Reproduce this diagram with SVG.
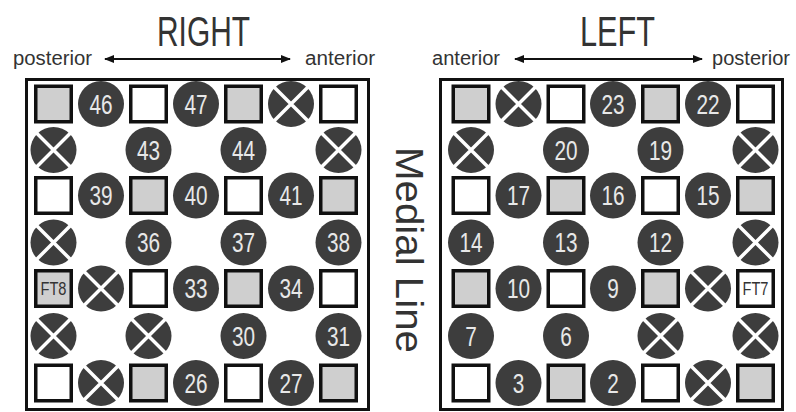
<svg xmlns="http://www.w3.org/2000/svg" xmlns:xlink="http://www.w3.org/1999/xlink" width="796" height="412" viewBox="0 0 796 412">
<style>
.fr{fill:none;stroke:#111;stroke-width:3}
.sq{stroke:#111;stroke-width:3.5}
.g{fill:#cfcfcf}
.w{fill:#fff}
.c{fill:#3d3d3d}
.n{font-family:"Liberation Sans",Arial,sans-serif;font-size:27px;fill:#e8e8e8;text-anchor:middle}
.ft{font-family:"Liberation Sans",Arial,sans-serif;font-size:18px;fill:#333;text-anchor:middle}
.h{font-family:"Liberation Sans",Arial,sans-serif;fill:#333}
.ar{stroke:#111;stroke-width:2.2;fill:none;marker-start:url(#ah);marker-end:url(#ah)}
</style>
<defs>
<marker id="ah" viewBox="0 0 10 8" refX="9" refY="4" markerWidth="10" markerHeight="8" markerUnits="userSpaceOnUse" orient="auto-start-reverse">
<path d="M0,0 L10,4 L0,8 Z" fill="#111"/>
</marker>
<g id="xc"><circle class="c" r="23"/><path d="M-17,-17 L17,17 M17,-17 L-17,17" stroke="#fff" stroke-width="3.5"/></g>
<rect id="sqs" x="-17.75" y="-17.75" width="35.5" height="35.5"/>
</defs>
<rect width="796" height="412" fill="#fff"/>

<g id="headers">
<text class="h" x="157" y="46" font-size="42" textLength="93" lengthAdjust="spacingAndGlyphs">RIGHT</text>
<text class="h" x="580" y="46" font-size="42" textLength="75" lengthAdjust="spacingAndGlyphs">LEFT</text>
<text class="h" x="13" y="65" font-size="20" textLength="79" lengthAdjust="spacingAndGlyphs">posterior</text>
<text class="h" x="305" y="65" font-size="20" textLength="70" lengthAdjust="spacingAndGlyphs">anterior</text>
<text class="h" x="432" y="65" font-size="20" textLength="68" lengthAdjust="spacingAndGlyphs">anterior</text>
<text class="h" x="712" y="65" font-size="20" textLength="78" lengthAdjust="spacingAndGlyphs">posterior</text>
<text class="h" transform="translate(396,147) rotate(90)" x="0" y="0" font-size="38" fill="#222" textLength="206" lengthAdjust="spacingAndGlyphs">Medial Line</text>
</g>

<g id="connectors">
<line class="ar" x1="105" y1="59" x2="290" y2="59"/>
<line class="ar" x1="515" y1="59" x2="702" y2="59"/>
</g>

<g id="right-panel">
<rect class="fr" x="26.5" y="79.5" width="342" height="330"/>
<g id="R-r1c1" transform="translate(53.5,104)"><use href="#sqs" class="sq g"/></g>
<g id="e46" transform="translate(101,104)"><circle class="c" r="23"/><text class="n" transform="scale(.77 1)" y="9.5">46</text></g>
<g id="R-r1c3" transform="translate(148.5,104)"><use href="#sqs" class="sq w"/></g>
<g id="e47" transform="translate(196,104)"><circle class="c" r="23"/><text class="n" transform="scale(.77 1)" y="9.5">47</text></g>
<g id="R-r1c5" transform="translate(243.5,104)"><use href="#sqs" class="sq g"/></g>
<g id="R-x1c6" transform="translate(291,104)"><use href="#xc"/></g>
<g id="R-r1c7" transform="translate(338.5,104)"><use href="#sqs" class="sq w"/></g>
<g id="R-x2c1" transform="translate(53.5,150)"><use href="#xc"/></g>
<g id="e43" transform="translate(148.5,150)"><circle class="c" r="23"/><text class="n" transform="scale(.77 1)" y="9.5">43</text></g>
<g id="e44" transform="translate(243.5,150)"><circle class="c" r="23"/><text class="n" transform="scale(.77 1)" y="9.5">44</text></g>
<g id="R-x2c7" transform="translate(338.5,150)"><use href="#xc"/></g>
<g id="R-r3c1" transform="translate(53.5,195.5)"><use href="#sqs" class="sq w"/></g>
<g id="e39" transform="translate(101,195.5)"><circle class="c" r="23"/><text class="n" transform="scale(.77 1)" y="9.5">39</text></g>
<g id="R-r3c3" transform="translate(148.5,195.5)"><use href="#sqs" class="sq g"/></g>
<g id="e40" transform="translate(196,195.5)"><circle class="c" r="23"/><text class="n" transform="scale(.77 1)" y="9.5">40</text></g>
<g id="R-r3c5" transform="translate(243.5,195.5)"><use href="#sqs" class="sq w"/></g>
<g id="e41" transform="translate(291,195.5)"><circle class="c" r="23"/><text class="n" transform="scale(.77 1)" y="9.5">41</text></g>
<g id="R-r3c7" transform="translate(338.5,195.5)"><use href="#sqs" class="sq g"/></g>
<g id="R-x4c1" transform="translate(53.5,242.5)"><use href="#xc"/></g>
<g id="e36" transform="translate(148.5,242.5)"><circle class="c" r="23"/><text class="n" transform="scale(.77 1)" y="9.5">36</text></g>
<g id="e37" transform="translate(243.5,242.5)"><circle class="c" r="23"/><text class="n" transform="scale(.77 1)" y="9.5">37</text></g>
<g id="e38" transform="translate(338.5,242.5)"><circle class="c" r="23"/><text class="n" transform="scale(.77 1)" y="9.5">38</text></g>
<g id="FT8" transform="translate(53.5,288.5)"><use href="#sqs" class="sq g"/><text class="ft" x="0" y="6.5" textLength="26" lengthAdjust="spacingAndGlyphs" transform="translate(-13,0)" style="text-anchor:start">FT8</text></g>
<g id="R-x5c2" transform="translate(101,288.5)"><use href="#xc"/></g>
<g id="R-r5c3" transform="translate(148.5,288.5)"><use href="#sqs" class="sq w"/></g>
<g id="e33" transform="translate(196,288.5)"><circle class="c" r="23"/><text class="n" transform="scale(.77 1)" y="9.5">33</text></g>
<g id="R-r5c5" transform="translate(243.5,288.5)"><use href="#sqs" class="sq g"/></g>
<g id="e34" transform="translate(291,288.5)"><circle class="c" r="23"/><text class="n" transform="scale(.77 1)" y="9.5">34</text></g>
<g id="R-r5c7" transform="translate(338.5,288.5)"><use href="#sqs" class="sq w"/></g>
<g id="R-x6c1" transform="translate(53.5,336)"><use href="#xc"/></g>
<g id="R-x6c3" transform="translate(148.5,336)"><use href="#xc"/></g>
<g id="e30" transform="translate(243.5,336)"><circle class="c" r="23"/><text class="n" transform="scale(.77 1)" y="9.5">30</text></g>
<g id="e31" transform="translate(338.5,336)"><circle class="c" r="23"/><text class="n" transform="scale(.77 1)" y="9.5">31</text></g>
<g id="R-r7c1" transform="translate(53.5,383)"><use href="#sqs" class="sq w"/></g>
<g id="R-x7c2" transform="translate(101,383)"><use href="#xc"/></g>
<g id="R-r7c3" transform="translate(148.5,383)"><use href="#sqs" class="sq g"/></g>
<g id="e26" transform="translate(196,383)"><circle class="c" r="23"/><text class="n" transform="scale(.77 1)" y="9.5">26</text></g>
<g id="R-r7c5" transform="translate(243.5,383)"><use href="#sqs" class="sq w"/></g>
<g id="e27" transform="translate(291,383)"><circle class="c" r="23"/><text class="n" transform="scale(.77 1)" y="9.5">27</text></g>
<g id="R-r7c7" transform="translate(338.5,383)"><use href="#sqs" class="sq g"/></g>
</g>

<g id="left-panel">
<rect class="fr" x="440.5" y="79.5" width="342" height="330"/>
<g id="L-r1c1" transform="translate(471,104)"><use href="#sqs" class="sq g"/></g>
<g id="L-x1c2" transform="translate(518.5,104)"><use href="#xc"/></g>
<g id="L-r1c3" transform="translate(566,104)"><use href="#sqs" class="sq w"/></g>
<g id="e23" transform="translate(613,104)"><circle class="c" r="23"/><text class="n" transform="scale(.77 1)" y="9.5">23</text></g>
<g id="L-r1c5" transform="translate(660.5,104)"><use href="#sqs" class="sq g"/></g>
<g id="e22" transform="translate(708,104)"><circle class="c" r="23"/><text class="n" transform="scale(.77 1)" y="9.5">22</text></g>
<g id="L-r1c7" transform="translate(755.5,104)"><use href="#sqs" class="sq w"/></g>
<g id="L-x2c1" transform="translate(471,150)"><use href="#xc"/></g>
<g id="e20" transform="translate(566,150)"><circle class="c" r="23"/><text class="n" transform="scale(.77 1)" y="9.5">20</text></g>
<g id="e19" transform="translate(660.5,150)"><circle class="c" r="23"/><text class="n" transform="scale(.77 1)" y="9.5">19</text></g>
<g id="L-x2c7" transform="translate(755.5,150)"><use href="#xc"/></g>
<g id="L-r3c1" transform="translate(471,195.5)"><use href="#sqs" class="sq w"/></g>
<g id="e17" transform="translate(518.5,195.5)"><circle class="c" r="23"/><text class="n" transform="scale(.77 1)" y="9.5">17</text></g>
<g id="L-r3c3" transform="translate(566,195.5)"><use href="#sqs" class="sq g"/></g>
<g id="e16" transform="translate(613,195.5)"><circle class="c" r="23"/><text class="n" transform="scale(.77 1)" y="9.5">16</text></g>
<g id="L-r3c5" transform="translate(660.5,195.5)"><use href="#sqs" class="sq w"/></g>
<g id="e15" transform="translate(708,195.5)"><circle class="c" r="23"/><text class="n" transform="scale(.77 1)" y="9.5">15</text></g>
<g id="L-r3c7" transform="translate(755.5,195.5)"><use href="#sqs" class="sq g"/></g>
<g id="e14" transform="translate(471,242.5)"><circle class="c" r="23"/><text class="n" transform="scale(.77 1)" y="9.5">14</text></g>
<g id="e13" transform="translate(566,242.5)"><circle class="c" r="23"/><text class="n" transform="scale(.77 1)" y="9.5">13</text></g>
<g id="e12" transform="translate(660.5,242.5)"><circle class="c" r="23"/><text class="n" transform="scale(.77 1)" y="9.5">12</text></g>
<g id="L-x4c7" transform="translate(755.5,242.5)"><use href="#xc"/></g>
<g id="L-r5c1" transform="translate(471,288.5)"><use href="#sqs" class="sq g"/></g>
<g id="e10" transform="translate(518.5,288.5)"><circle class="c" r="23"/><text class="n" transform="scale(.77 1)" y="9.5">10</text></g>
<g id="L-r5c3" transform="translate(566,288.5)"><use href="#sqs" class="sq w"/></g>
<g id="e9" transform="translate(613,288.5)"><circle class="c" r="23"/><text class="n" transform="scale(.77 1)" y="9.5">9</text></g>
<g id="L-r5c5" transform="translate(660.5,288.5)"><use href="#sqs" class="sq g"/></g>
<g id="L-x5c6" transform="translate(708,288.5)"><use href="#xc"/></g>
<g id="FT7" transform="translate(755.5,288.5)"><use href="#sqs" class="sq w"/><text class="ft" x="0" y="6.5" textLength="26" lengthAdjust="spacingAndGlyphs" transform="translate(-13,0)" style="text-anchor:start">FT7</text></g>
<g id="e7" transform="translate(471,336)"><circle class="c" r="23"/><text class="n" transform="scale(.77 1)" y="9.5">7</text></g>
<g id="e6" transform="translate(566,336)"><circle class="c" r="23"/><text class="n" transform="scale(.77 1)" y="9.5">6</text></g>
<g id="L-x6c5" transform="translate(660.5,336)"><use href="#xc"/></g>
<g id="L-x6c7" transform="translate(755.5,336)"><use href="#xc"/></g>
<g id="L-r7c1" transform="translate(471,383)"><use href="#sqs" class="sq w"/></g>
<g id="e3" transform="translate(518.5,383)"><circle class="c" r="23"/><text class="n" transform="scale(.77 1)" y="9.5">3</text></g>
<g id="L-r7c3" transform="translate(566,383)"><use href="#sqs" class="sq g"/></g>
<g id="e2" transform="translate(613,383)"><circle class="c" r="23"/><text class="n" transform="scale(.77 1)" y="9.5">2</text></g>
<g id="L-r7c5" transform="translate(660.5,383)"><use href="#sqs" class="sq w"/></g>
<g id="L-x7c6" transform="translate(708,383)"><use href="#xc"/></g>
<g id="L-r7c7" transform="translate(755.5,383)"><use href="#sqs" class="sq g"/></g>
</g>
</svg>
